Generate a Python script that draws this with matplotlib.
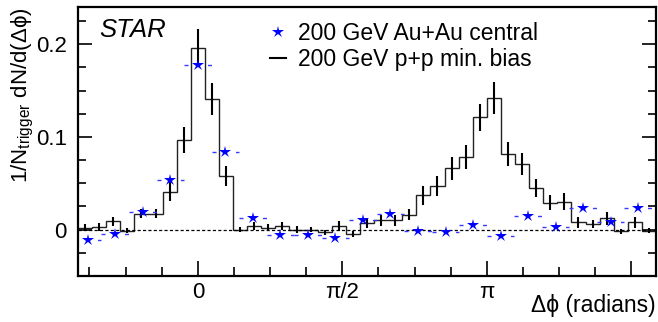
import numpy as np
import matplotlib
matplotlib.use('Agg')
import matplotlib.pyplot as plt
from matplotlib.lines import Line2D

plt.rcParams['font.family'] = ['Liberation Sans', 'DejaVu Sans']
plt.rcParams['mathtext.fontset'] = 'custom'
plt.rcParams['mathtext.rm'] = 'Liberation Sans'
plt.rcParams['mathtext.it'] = 'Liberation Sans:italic'
plt.rcParams['mathtext.fallback'] = 'stix'

# p+p min. bias: 41 bins of width 2pi/41, centred on 0 (bin index -8 .. 32)
pp_bins = np.arange(-8, 33)
pp_y = [0.002, 0.003, 0.009, -0.001, 0.017, 0.017, 0.041, 0.097, 0.196, 0.141,
        0.058, 0.000, 0.004, 0.002, 0.004, 0.000, 0.000, -0.003, 0.004, -0.005,
        0.007, 0.010, 0.010, 0.016, 0.037, 0.047, 0.066, 0.078, 0.121, 0.142,
        0.082, 0.071, 0.045, 0.029, 0.030, 0.008, 0.006, 0.012, -0.002, 0.008,
        -0.001]
pp_err = [0.004, 0.004, 0.005, 0.003, 0.005, 0.005, 0.010, 0.014, 0.020, 0.017,
          0.011, 0.003, 0.004, 0.004, 0.004, 0.004, 0.003, 0.003, 0.005, 0.003,
          0.005, 0.006, 0.006, 0.006, 0.010, 0.011, 0.012, 0.013, 0.015, 0.017,
          0.013, 0.012, 0.010, 0.008, 0.009, 0.006, 0.004, 0.007, 0.003, 0.006,
          0.003]

# Au+Au central: 21 bins of width 2pi/21, centred on 0 (bin index -4 .. 16)
au_bins = np.arange(-4, 17)
au_y = [-0.011, -0.005, 0.019, 0.053, 0.177, 0.084, 0.013, -0.006, -0.006, -0.009,
        0.010, 0.017, -0.001, -0.003, 0.005, -0.007, 0.015, 0.003, 0.023, 0.008,
        0.023]

xticks = [0, np.pi / 2, np.pi, 3 * np.pi / 2]
xtick_labels = ['0', 'π/2', 'π', '']
yticks = [0, 0.1, 0.2]
ytick_labels = ['0', '0.1', '0.2']

w_pp = 2 * np.pi / 41
w_au = 2 * np.pi / 21
pp_x = pp_bins * w_pp
edges = np.append(pp_x - w_pp / 2, pp_x[-1] + w_pp / 2)
au_x = au_bins * w_au

fig = plt.figure(figsize=(6.58, 3.22), dpi=100)
ax = fig.add_axes([0.1185, 0.143, 0.8785, 0.835])

ax.stairs(pp_y, edges, color='#222222', lw=1.0, baseline=None)
ax.errorbar(pp_x, pp_y, yerr=pp_err, fmt='none', ecolor='black', elinewidth=1.5)
ax.axhline(0, color='black', lw=0.9, ls=(0, (2.5, 1.8)))

eb = ax.errorbar(au_x, au_y, xerr=w_au / 2, fmt='none', ecolor='#3a3aff', elinewidth=1.0)
eb[2][0].set_linestyle((0, (2.9, 14.0)))
ax.plot(au_x, au_y, ls='none', marker='*', ms=9, color='#0000ff', mew=0, zorder=5)

ax.set_xlim(edges[0], edges[-1])
ax.set_ylim(-0.05, 0.24)
ax.set_xticks(xticks)
ax.set_xticklabels(xtick_labels)
ax.set_xticks(np.arange(-3, 13) * np.pi / 8, minor=True)
ax.set_yticks(yticks)
ax.set_yticklabels(ytick_labels)
ax.set_yticks(np.arange(-0.025, 0.24, 0.025), minor=True)
ax.tick_params(which='both', direction='in', right=True, top=False, width=1.2,
               labelsize=16)
ax.tick_params(axis='x', which='major', length=10.5, pad=4.5)
ax.tick_params(axis='x', which='minor', length=6.5)
ax.tick_params(axis='y', which='major', length=10, pad=8)
ax.tick_params(axis='y', which='minor', length=5.5)
for s in ax.spines.values():
    s.set_linewidth(1.6)

ax.set_ylabel('1/N$_{\\mathrm{trigger}}$ dN/d(Δϕ)', fontsize=16, loc='top',
              labelpad=0)
ax.text(1.0, -0.11, 'Δϕ (radians)', transform=ax.transAxes, ha='right', va='center',
        fontsize=16.5)
ax.text(0.036, 0.915, 'STAR', transform=ax.transAxes, ha='left', va='center',
        fontsize=18.5, style='italic')

handles = [Line2D([], [], ls='none', marker='*', ms=9, color='#0000ff', mew=0),
           Line2D([], [], color='black', lw=1.5)]
ax.legend(handles, ['200 GeV Au+Au central', '200 GeV p+p min. bias'],
          loc='upper left', bbox_to_anchor=(0.332, 0.946), frameon=False,
          fontsize=16.5, handlelength=0.7, handletextpad=0.52, labelspacing=0.17,
          borderpad=0, borderaxespad=0)

fig.savefig('out.png', dpi=100)
